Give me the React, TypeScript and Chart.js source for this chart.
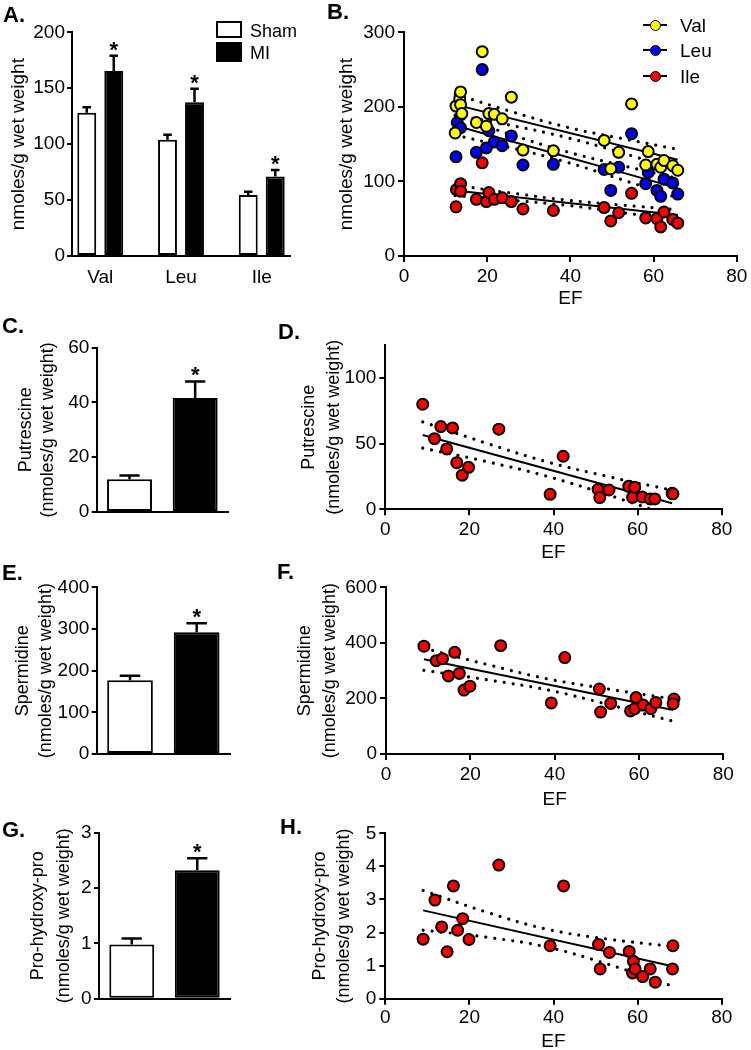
import React, { useEffect, useRef } from 'react';
import { Chart, registerables } from 'chart.js';

Chart.register(...registerables);

const FONT = 'Arial, "Liberation Sans", Helvetica, sans-serif';
Chart.defaults.font.family = FONT;
Chart.defaults.color = '#000';

// ---------------- data ----------------
const GROUPS = ['Sham', 'MI'];
const MI_SIG = [false, true];
const AMINO_ACIDS = ['Val', 'Leu', 'Ile'];
const AA_COLORS = ['#ffff00', '#0000ff', '#ff0000'];
const EF_TICKS = [0, 20, 40, 60, 80];

// Panel A: BCAA levels, Sham vs MI
const A_SHAM = [128, 104, 54.5];
const A_SHAM_SEM = [5, 4.5, 3];
const A_MI = [165.5, 137.5, 71];
const A_MI_SEM = [13.5, 12, 6];
const A_SIG = [true, true, true];
const A_Y_TICKS = [0, 50, 100, 150, 200];

// Panel B: BCAA vs EF
const VAL_EF = [12.3, 12.5, 13.4, 13.6, 13.6, 13.9, 17.4, 18.8, 19.8, 20.4, 21.7, 23.6, 25.8, 28.6, 35.9, 48.1, 49.7, 51.6, 54.7, 58.1, 58.7, 60.8, 61.7, 62.5, 64.6, 65.8];
const VAL = [165, 201, 211, 220, 203, 191, 179, 274, 174, 191, 190, 184, 213, 142, 141, 155, 117, 139, 204, 122, 140, 123, 119, 128, 121, 115];
const LEU_EF = [12.5, 12.8, 13.6, 17.4, 18.8, 19.8, 20.4, 21.7, 23.6, 25.8, 28.6, 35.9, 48.1, 49.7, 51.6, 54.7, 58.1, 58.7, 60.8, 61.7, 62.5, 64.6, 65.8];
const LEU = [133, 179, 172, 139, 250, 145, 168, 153, 148, 161, 122, 123, 116, 88, 119, 164, 97, 112, 88, 80, 103, 98, 83];
const ILE_EF = [12.5, 12.6, 13.6, 13.6, 17.4, 18.8, 19.8, 20.4, 21.7, 23.6, 25.8, 28.6, 35.9, 48.1, 49.7, 51.6, 54.7, 58.1, 60.8, 61.7, 62.5, 64.6, 65.8];
const ILE = [66, 89, 97, 87, 76, 125, 73, 85, 76, 78, 73, 63, 61, 65, 47, 58, 84, 51, 50, 39, 59, 49, 44];
const B_FIT_EF = [12.3, 65.8];
const VAL_FIT = [203, 129];
const LEU_FIT = [175, 91];
const ILE_FIT = [88, 55];
const B_BAND_EF = [12.3, 25, 39, 52, 65.8];
const VAL_UPPER = [217, 195, 173, 158, 143];
const VAL_LOWER = [189, 176, 159, 139, 115];
const LEU_UPPER = [188, 164, 140, 122, 104];
const LEU_LOWER = [162, 146, 126, 103, 78];
const ILE_UPPER = [95, 85, 75, 68.5, 62];
const ILE_LOWER = [81, 75, 68, 58.5, 48];
const B_Y_TICKS = [0, 100, 200, 300];

// Panel C: Putrescine
const PUT_MEAN = [12, 41.6];
const PUT_SEM = [1.3, 6.1];
const C_Y_TICKS = [0, 20, 40, 60];

// Panel D: Putrescine vs EF
const D_EF = [8.9, 11.7, 13.2, 14.6, 16.0, 17.0, 18.3, 19.8, 27.0, 39.2, 42.3, 50.6, 51.0, 53.2, 57.9, 58.8, 59.3, 61.1, 63.0, 64.1, 68.2, 68.4];
const D_PUT = [80, 53.8, 63, 46, 62, 35.5, 26, 32, 61, 11.4, 40.4, 15.2, 8.9, 14.7, 17.5, 9.1, 16.8, 9.4, 7.9, 7.9, 12.2, 11.8];
const D_FIT_EF = [8.9, 68.2];
const D_FIT = [56.6, 4.6];
const D_BAND_EF = [8.9, 24, 38.5, 53, 68.2];
const D_UPPER = [66.6, 50.4, 36.1, 24.9, 14.6];
const D_LOWER = [46.6, 36.4, 25.1, 10.9, -5.4];
const D_Y_TICKS = [0, 50, 100];
const D_Y_MAX = 125;

// Panel E: Spermidine
const SPD_MEAN = [177, 292];
const SPD_SEM = [11, 22];
const E_Y_TICKS = [0, 100, 200, 300, 400];

// Panel F: Spermidine vs EF
const F_EF = [9.0, 11.9, 13.4, 14.8, 16.3, 17.4, 18.5, 19.9, 27.2, 39.2, 42.4, 50.6, 50.9, 53.3, 58.0, 59.0, 59.3, 61.0, 62.8, 64.0, 68.3, 68.1];
const F_SPD = [388, 336, 343, 281, 366, 290, 230, 244, 390, 184, 347, 234, 151, 182, 155, 163, 203, 176, 163, 185, 198, 181];
const F_FIT_EF = [9, 68.1];
const F_FIT = [341, 158];
const F_BAND_EF = [9, 24, 38.5, 53, 68.1];
const F_UPPER = [381, 322, 270, 233, 198];
const F_LOWER = [301, 267, 230, 177, 118];
const F_Y_TICKS = [0, 200, 400, 600];

// Panel G: Pro-hydroxy-pro
const PHP_MEAN = [0.98, 2.32];
const PHP_SEM = [0.11, 0.22];
const G_Y_TICKS = [0, 1, 2, 3];

// Panel H: Pro-hydroxy-pro vs EF
const H_EF = [9.0, 11.8, 13.4, 14.7, 16.2, 17.2, 18.4, 19.9, 27.0, 39.2, 42.4, 50.7, 51.1, 53.3, 58.0, 58.8, 59.0, 59.4, 61.2, 63.0, 64.2, 68.4, 68.3];
const H_PHP = [1.8, 2.98, 2.17, 1.42, 3.41, 2.07, 2.42, 1.79, 4.04, 1.6, 3.41, 1.64, 0.9, 1.4, 1.43, 0.78, 1.13, 0.9, 0.67, 0.9, 0.5, 1.6, 0.9];
const H_FIT_EF = [9, 68.3];
const H_FIT = [2.67, 0.98];
const H_BAND_EF = [9, 24, 38.5, 53, 68.3];
const H_UPPER = [3.27, 2.62, 2.1, 1.8, 1.58];
const H_LOWER = [2.07, 1.86, 1.56, 1.04, 0.38];
const H_Y_TICKS = [0, 1, 2, 3, 4, 5];

// ---------------- helpers ----------------
const pts = (xs: number[], ys: number[]) => xs.map((x, i) => ({ x, y: ys[i] }));
const BORDER = { display: true, color: '#000', width: 2 };
const tickGrid = (len: number) => ({ display: true, drawOnChartArea: false, drawTicks: true, tickLength: len, color: '#000', lineWidth: 2 });
const setTicks = (vals: number[]) => (s: any) => { s.ticks = vals.map((value) => ({ value })); };

function frame(box: any, area: any) {
  return {
    padding: { left: 0, top: area.top - box.top, right: box.left + box.width - area.right, bottom: 0 },
    yWidth: area.left - box.left,
    xHeight: box.top + box.height - area.bottom,
  };
}

function yAxis(o: any) {
  return {
    type: 'linear',
    min: 0,
    max: o.max,
    afterBuildTicks: setTicks(o.ticks),
    afterFit: (s: any) => { s.width = o.width; },
    border: BORDER,
    grid: tickGrid(o.tickLen),
    ticks: { font: { size: 19 }, padding: o.tickPad, color: '#000' },
    title: {
      display: true,
      text: o.title,
      color: '#000',
      font: { size: o.titleSize, lineHeight: o.lh },
      padding: { top: o.titlePad, bottom: 0 },
    },
  };
}

function efAxis(height: number, lh: number, tickPad: number) {
  return {
    type: 'linear',
    min: 0,
    max: 80,
    afterBuildTicks: setTicks(EF_TICKS),
    afterFit: (s: any) => { s.height = height; },
    border: BORDER,
    grid: tickGrid(6),
    ticks: { font: { size: 19 }, padding: tickPad, color: '#000', maxRotation: 0, autoSkip: false },
    title: { display: true, text: 'EF', color: '#000', font: { size: 19, lineHeight: lh }, padding: { top: 0, bottom: 0 } },
  };
}

const errorBars = {
  id: 'errorBars',
  afterDatasetsDraw(chart: any) {
    const { ctx } = chart;
    const yScale = chart.scales.y;
    chart.data.datasets.forEach((ds: any, di: number) => {
      if (!ds.errors) return;
      const meta = chart.getDatasetMeta(di);
      meta.data.forEach((bar: any, i: number) => {
        const d = ds.data[i];
        const v = typeof d === 'number' ? d : d.y;
        const top = yScale.getPixelForValue(v + ds.errors[i]);
        const base = yScale.getPixelForValue(v);
        const cap = bar.width * 0.45;
        ctx.save();
        ctx.strokeStyle = '#000';
        ctx.lineWidth = 2.5;
        ctx.beginPath();
        ctx.moveTo(bar.x, base);
        ctx.lineTo(bar.x, top);
        ctx.moveTo(bar.x - cap / 2, top);
        ctx.lineTo(bar.x + cap / 2, top);
        ctx.stroke();
        if (ds.stars && ds.stars[i]) {
          ctx.fillStyle = '#000';
          ctx.font = `bold 22px ${FONT}`;
          ctx.textAlign = 'center';
          ctx.textBaseline = 'alphabetic';
          ctx.fillText('*', bar.x, top + 1);
        }
        ctx.restore();
      });
    });
  },
};

const baseOptions = (padding: any) => ({
  responsive: false,
  animation: false,
  events: [],
  layout: { padding },
  plugins: { legend: { display: false }, tooltip: { enabled: false } },
});

// ---------------- geometry ----------------
const BOX_A = { left: 0, top: 0, width: 300, height: 300 };
const AREA_A = { left: 72, top: 32.3, right: 290, bottom: 256 };
const BOX_B = { left: 270, top: 0, width: 481, height: 310 };
const AREA_B = { left: 404, top: 32.3, right: 741, bottom: 256 };
const BOX_C = { left: 0, top: 300, width: 300, height: 230 };
const AREA_C = { left: 96.7, top: 347.7, right: 228, bottom: 512 };
const BOX_D = { left: 270, top: 300, width: 481, height: 264 };
const AREA_D = { left: 385.3, top: 345.2, right: 721.7, bottom: 509.3 };
const BOX_E = { left: 0, top: 530, width: 300, height: 240 };
const AREA_E = { left: 96.7, top: 587.3, right: 230, bottom: 754 };
const BOX_F = { left: 270, top: 530, width: 481, height: 281 };
const AREA_F = { left: 386, top: 587.3, right: 723.3, bottom: 754 };
const BOX_G = { left: 0, top: 770, width: 300, height: 280 };
const AREA_G = { left: 99, top: 832.7, right: 230, bottom: 998.7 };
const BOX_H = { left: 270, top: 770, width: 481, height: 280 };
const AREA_H = { left: 385.3, top: 833.3, right: 721.7, bottom: 998.7 };

// ---------------- configs ----------------
function makeA() {
  const f = frame(BOX_A, AREA_A);
  const barStyle = { borderColor: '#000', borderWidth: 2, borderSkipped: false, categoryPercentage: 0.669, barPercentage: 0.7 };
  return {
    type: 'bar',
    data: {
      datasets: [
        { label: GROUPS[0], data: pts([0, 1, 2], A_SHAM), backgroundColor: '#ffffff', ...barStyle, errors: A_SHAM_SEM },
        { label: GROUPS[1], data: pts([0, 1, 2], A_MI), backgroundColor: '#000000', ...barStyle, errors: A_MI_SEM, stars: A_SIG },
      ],
    },
    options: {
      ...baseOptions(f.padding),
      scales: {
        x: {
          type: 'linear',
          offset: false,
          min: -0.35,
          max: 2.35,
          afterBuildTicks: setTicks(AMINO_ACIDS.map((_, i) => i)),
          afterFit: (s: any) => { s.height = f.xHeight; },
          border: BORDER,
          grid: { display: false, drawTicks: false, offset: false },
          ticks: { font: { size: 19 }, padding: 10.6, color: '#000', autoSkip: false, maxRotation: 0, callback: (v: any) => AMINO_ACIDS[v] },
        },
        y: yAxis({ max: 200, ticks: A_Y_TICKS, width: f.yWidth, tickLen: 5, tickPad: 2, title: 'nmoles/g wet weight', titleSize: 19, lh: 1.2, titlePad: 7.6 }),
      },
    },
    plugins: [errorBars],
  };
}

function makePair(box: any, area: any, mean: number[], sem: number[], ticks: number[], title: string[], lh: number, titlePad: number) {
  const f = frame(box, area);
  return {
    type: 'bar',
    data: {
      labels: GROUPS,
      datasets: [{
        data: mean,
        backgroundColor: ['#ffffff', '#000000'],
        borderColor: '#000',
        borderWidth: 2,
        borderSkipped: false,
        categoryPercentage: 1,
        barPercentage: 0.685,
        errors: sem,
        stars: MI_SIG,
      }],
    },
    options: {
      ...baseOptions(f.padding),
      scales: {
        x: {
          type: 'category',
          offset: true,
          afterFit: (s: any) => { s.height = f.xHeight; },
          border: BORDER,
          grid: { display: false, drawTicks: false },
          ticks: { display: false },
        },
        y: yAxis({ max: ticks[ticks.length - 1], ticks, width: f.yWidth, tickLen: 5, tickPad: 2.4, title, titleSize: 18, lh, titlePad }),
      },
    },
    plugins: [errorBars],
  };
}

function makeScatter(o: any) {
  const f = frame(o.box, o.area);
  const datasets: any[] = [];
  o.series.forEach((s: any, i: number) => datasets.push({
    type: 'scatter', label: s.label, data: s.data, pointRadius: 5.5, pointBorderWidth: 2,
    pointBackgroundColor: s.color, pointBorderColor: '#000', backgroundColor: s.color, borderColor: '#000', order: i,
  }));
  o.fits.forEach((d: any) => datasets.push({
    type: 'line', data: d, borderColor: '#000', borderWidth: 2, pointRadius: 0, fill: false, tension: 0, order: 10,
  }));
  o.bands.forEach((d: any) => datasets.push({
    type: 'line', data: d, borderColor: '#000', borderWidth: 3.2, borderDash: [0.01, 9], borderCapStyle: 'round',
    pointRadius: 0, fill: false, tension: 0.4, order: 11,
  }));
  return {
    type: 'scatter',
    data: { datasets },
    options: {
      ...baseOptions(f.padding),
      scales: {
        x: efAxis(f.xHeight, o.efLh, o.xTickPad),
        y: yAxis({ max: o.yMax, ticks: o.yTicks, width: f.yWidth, tickLen: 6, tickPad: 3, title: o.title, titleSize: o.titleSize, lh: o.lh, titlePad: o.titlePad }),
      },
    },
  };
}

const makeB = () => makeScatter({
  box: BOX_B, area: AREA_B, yMax: 300, yTicks: B_Y_TICKS, title: 'nmoles/g wet weight', titleSize: 19, lh: 1.2, titlePad: 65.6,
  efLh: 1.2, xTickPad: 3.6,
  series: [
    { label: AMINO_ACIDS[0], color: AA_COLORS[0], data: pts(VAL_EF, VAL) },
    { label: AMINO_ACIDS[1], color: AA_COLORS[1], data: pts(LEU_EF, LEU) },
    { label: AMINO_ACIDS[2], color: AA_COLORS[2], data: pts(ILE_EF, ILE) },
  ],
  fits: [pts(B_FIT_EF, VAL_FIT), pts(B_FIT_EF, LEU_FIT), pts(B_FIT_EF, ILE_FIT)],
  bands: [
    pts(B_BAND_EF, VAL_UPPER), pts(B_BAND_EF, VAL_LOWER),
    pts(B_BAND_EF, LEU_UPPER), pts(B_BAND_EF, LEU_LOWER),
    pts(B_BAND_EF, ILE_UPPER), pts(B_BAND_EF, ILE_LOWER),
  ],
});

const makeD = () => makeScatter({
  box: BOX_D, area: AREA_D, yMax: D_Y_MAX, yTicks: D_Y_TICKS, title: ['Putrescine', '(nmoles/g wet weight)'], titleSize: 18, lh: 25 / 18, titlePad: 26.7,
  efLh: 1.2, xTickPad: 3.3,
  series: [{ label: 'Putrescine', color: AA_COLORS[2], data: pts(D_EF, D_PUT) }],
  fits: [pts(D_FIT_EF, D_FIT)],
  bands: [pts(D_BAND_EF, D_UPPER), pts(D_BAND_EF, D_LOWER)],
});

const makeF = () => makeScatter({
  box: BOX_F, area: AREA_F, yMax: 600, yTicks: F_Y_TICKS, title: ['Spermidine', '(nmoles/g wet weight)'], titleSize: 18, lh: 25 / 18, titlePad: 23,
  efLh: 1.2, xTickPad: 3.6,
  series: [{ label: 'Spermidine', color: AA_COLORS[2], data: pts(F_EF, F_SPD) }],
  fits: [pts(F_FIT_EF, F_FIT)],
  bands: [pts(F_BAND_EF, F_UPPER), pts(F_BAND_EF, F_LOWER)],
});

const makeH = () => makeScatter({
  box: BOX_H, area: AREA_H, yMax: 5, yTicks: H_Y_TICKS, title: ['Pro-hydroxy-pro', '(nmoles/g wet weight)'], titleSize: 18, lh: 24 / 18, titlePad: 38.5,
  efLh: 0.9, xTickPad: 2,
  series: [{ label: 'Pro-hydroxy-pro', color: AA_COLORS[2], data: pts(H_EF, H_PHP) }],
  fits: [pts(H_FIT_EF, H_FIT)],
  bands: [pts(H_BAND_EF, H_UPPER), pts(H_BAND_EF, H_LOWER)],
});

const makeC = () => makePair(BOX_C, AREA_C, PUT_MEAN, PUT_SEM, C_Y_TICKS, ['Putrescine', '(nmoles/g wet weight)'], 22 / 18, 15.3);
const makeE = () => makePair(BOX_E, AREA_E, SPD_MEAN, SPD_SEM, E_Y_TICKS, ['Spermidine', '(nmoles/g wet weight)'], 22.9 / 18, 11.85);
const makeG = () => makePair(BOX_G, AREA_G, PHP_MEAN, PHP_SEM, G_Y_TICKS, ['Pro-hydroxy-pro', '(nmoles/g wet weight)'], 26 / 18, 24.8);

// ---------------- components ----------------
function ChartBox({ box, make }: { box: any; make: () => any }) {
  const ref = useRef<HTMLCanvasElement>(null);
  useEffect(() => {
    const chart = new Chart(ref.current as HTMLCanvasElement, make());
    return () => chart.destroy();
  }, []);
  return (
    <canvas
      ref={ref}
      width={box.width}
      height={box.height}
      style={{ position: 'absolute', left: box.left, top: box.top, width: box.width, height: box.height }}
    />
  );
}

const PANEL_LABELS = [
  { text: 'A.', left: 3, top: 4.2 },
  { text: 'B.', left: 327, top: 1.2 },
  { text: 'C.', left: 2, top: 315.2 },
  { text: 'D.', left: 278, top: 320.9 },
  { text: 'E.', left: 2, top: 562.2 },
  { text: 'F.', left: 277, top: 560.7 },
  { text: 'G.', left: 2, top: 819.2 },
  { text: 'H.', left: 280, top: 815.7 },
];

const B_LEGEND_ROWS = [25, 50, 76];

export default function App() {
  const abs = { position: 'absolute' as const, whiteSpace: 'nowrap' as const };
  return (
    <div style={{ position: 'absolute', left: 0, top: 0, width: 751, height: 1050, background: '#fff', overflow: 'hidden', fontFamily: FONT, color: '#000' }}>
      <ChartBox box={BOX_A} make={makeA} />
      <ChartBox box={BOX_B} make={makeB} />
      <ChartBox box={BOX_C} make={makeC} />
      <ChartBox box={BOX_D} make={makeD} />
      <ChartBox box={BOX_E} make={makeE} />
      <ChartBox box={BOX_F} make={makeF} />
      <ChartBox box={BOX_G} make={makeG} />
      <ChartBox box={BOX_H} make={makeH} />

      {PANEL_LABELS.map((p) => (
        <div key={p.text} style={{ ...abs, left: p.left, top: p.top, fontSize: 22, lineHeight: '22px', fontWeight: 'bold' }}>{p.text}</div>
      ))}

      {/* Panel A legend */}
      <div style={{ ...abs, left: 216, top: 20.7, width: 26, height: 17.6, border: '2px solid #000', boxSizing: 'border-box', background: '#fff' }} />
      <div style={{ ...abs, left: 216, top: 42.3, width: 26, height: 19.4, background: '#000' }} />
      <div style={{ ...abs, left: 250, top: 22.2, fontSize: 18, lineHeight: '18px' }}>{GROUPS[0]}</div>
      <div style={{ ...abs, left: 250, top: 44.2, fontSize: 18, lineHeight: '18px' }}>{GROUPS[1]}</div>

      {/* Panel B legend */}
      {AMINO_ACIDS.map((name, i) => (
        <React.Fragment key={name}>
          <div style={{ ...abs, left: 643, top: B_LEGEND_ROWS[i] - 1, width: 24, height: 2, background: '#000' }} />
          <div style={{ ...abs, left: 649.5, top: B_LEGEND_ROWS[i] - 5.5, width: 11, height: 11, borderRadius: '50%', background: AA_COLORS[i], border: '1.5px solid #000', boxSizing: 'border-box' }} />
          <div style={{ ...abs, left: 680, top: B_LEGEND_ROWS[i] - 9.3, fontSize: 19, lineHeight: '19px' }}>{name}</div>
        </React.Fragment>
      ))}
    </div>
  );
}
